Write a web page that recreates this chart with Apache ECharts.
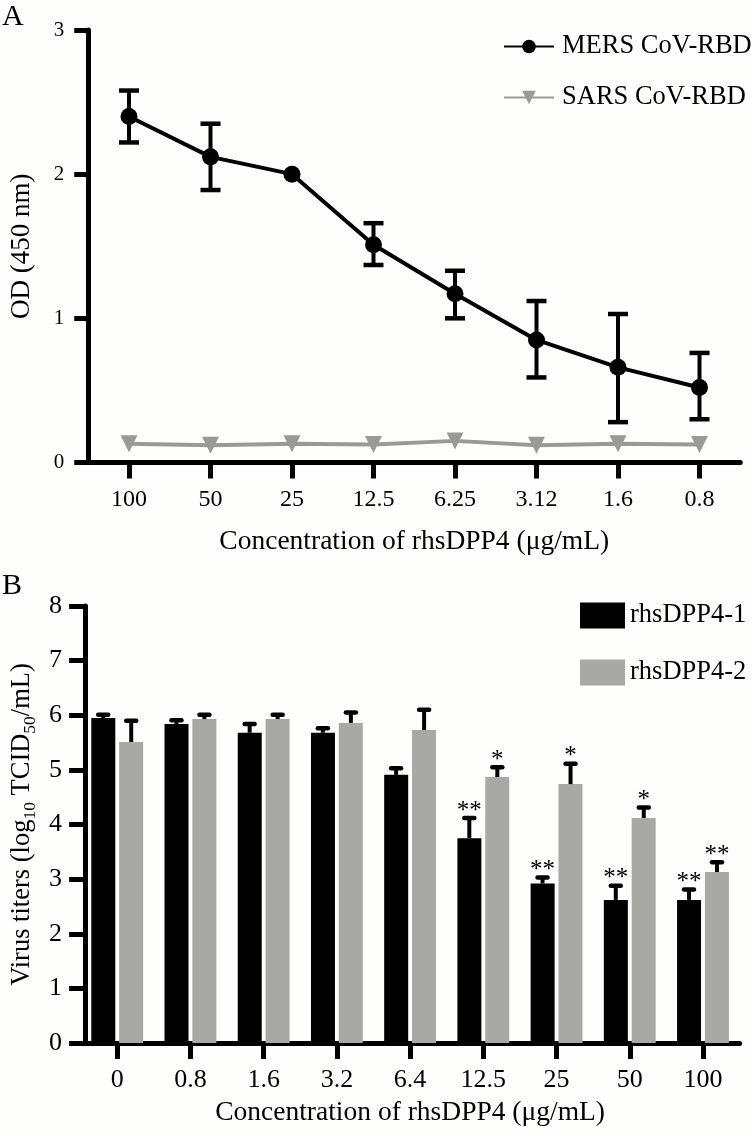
<!DOCTYPE html>
<html><head><meta charset="utf-8">
<script src="https://cdn.jsdelivr.net/npm/echarts@6/dist/echarts.min.js"></script>
<style>html,body{margin:0;padding:0;background:#fefefc}#c{width:753px;height:1135px}</style>
</head><body><div id="c"></div>
<script>
// ---- Panel A data ----
const topCategories = ['100', '50', '25', '12.5', '6.25', '3.12', '1.6', '0.8'];
const mersMean = [2.40, 2.12, 2.00, 1.51, 1.17, 0.85, 0.66, 0.52];
const mersLow  = [2.22, 1.89, 2.00, 1.37, 1.00, 0.59, 0.28, 0.30];
const mersHigh = [2.58, 2.35, 2.00, 1.66, 1.33, 1.12, 1.03, 0.76];
const sarsMean = [0.13, 0.12, 0.13, 0.125, 0.15, 0.12, 0.13, 0.125];

// ---- Panel B data ----
const bottomCategories = ['0', '0.8', '1.6', '3.2', '6.4', '12.5', '25', '50', '100'];
const dpp1Mean = [5.95, 5.84, 5.68, 5.68, 4.91, 3.75, 2.92, 2.62, 2.62];
const dpp1Err  = [0.06, 0.07, 0.16, 0.08, 0.12, 0.37, 0.11, 0.26, 0.19];
const dpp1Sig  = ['', '', '', '', '', '**', '**', '**', '**'];
const dpp2Mean = [5.51, 5.93, 5.93, 5.86, 5.73, 4.87, 4.74, 4.12, 3.13];
const dpp2Err  = [0.39, 0.08, 0.08, 0.19, 0.37, 0.18, 0.37, 0.19, 0.18];
const dpp2Sig  = ['', '', '', '', '', '*', '*', '*', '**'];

const FONT = 'Liberation Serif';
const GRAY_LINE = '#999996';
const GRAY_BAR = '#a8a8a4';

const chart = echarts.init(document.getElementById('c'), null, {renderer: 'canvas'});

function topErr(params, api) {
  const i = api.value(0), lo = api.value(1), hi = api.value(2);
  if (lo === hi) return null;
  const a = api.coord([i, lo]), b = api.coord([i, hi]);
  const hw = 10, st = {stroke: '#000', lineWidth: 4};
  return {type: 'group', children: [
    {type: 'line', shape: {x1: a[0], y1: a[1], x2: b[0], y2: b[1]}, style: st},
    {type: 'line', shape: {x1: b[0] - hw, y1: b[1], x2: b[0] + hw, y2: b[1]}, style: {stroke: '#000', lineWidth: 4.5}},
    {type: 'line', shape: {x1: a[0] - hw, y1: a[1], x2: a[0] + hw, y2: a[1]}, style: {stroke: '#000', lineWidth: 4.5}}
  ]};
}

function barErr(offset, sigs) {
  return function (params, api) {
    const i = api.value(0), m = api.value(1), h = api.value(2);
    const a = api.coord([i, m]), b = api.coord([i, h]);
    const x = a[0] + offset;
    const children = [
      {type: 'line', shape: {x1: x, y1: a[1], x2: x, y2: b[1]}, style: {stroke: '#000', lineWidth: 4}},
      {type: 'line', shape: {x1: x - 5, y1: b[1], x2: x + 5, y2: b[1]}, style: {stroke: '#000', lineWidth: 4.5, lineCap: 'round'}}
    ];
    const s = sigs[params.dataIndex];
    if (s) {
      children.push({type: 'text', style: {text: s, x: x, y: b[1] - 7, align: 'center', verticalAlign: 'middle',
        fontSize: 25, fontFamily: FONT, fill: '#000'}});
    }
    return {type: 'group', children};
  };
}

const axisLineStyle = {color: '#000', width: 5};

chart.setOption({
  animation: false,
  backgroundColor: '#fefefc',
  textStyle: {fontFamily: FONT, color: '#000'},
  graphic: [
    {type: 'text', left: 2, top: 2, style: {text: 'A', fontSize: 30, fontFamily: FONT, fill: '#000'}},
    {type: 'text', left: 2, top: 571, style: {text: 'B', fontSize: 30, fontFamily: FONT, fill: '#000'}}
  ],
  legend: [
    {data: ['MERS CoV-RBD', 'SARS CoV-RBD'], orient: 'vertical', left: 498, top: 28, itemWidth: 50, itemHeight: 17,
      itemGap: 24, textStyle: {fontSize: 26.5, fontFamily: FONT, color: '#000', padding: [0, 0, 0, 3]}},
    {data: ['rhsDPP4-1', 'rhsDPP4-2'], orient: 'vertical', left: 575, top: 597, itemWidth: 45, itemHeight: 26,
      itemGap: 30, icon: 'rect', textStyle: {fontSize: 26.5, fontFamily: FONT, color: '#000', padding: [0, 0, 0, 0]}}
  ],
  grid: [
    {left: 88.25, top: 30, width: 652, height: 432.5, outerBoundsMode: 'none', containLabel: false},
    {left: 80.6, top: 606, width: 659, height: 437, outerBoundsMode: 'none', containLabel: false}
  ],
  xAxis: [
    {type: 'category', gridIndex: 0, data: topCategories, boundaryGap: true,
      axisLine: {show: true, lineStyle: axisLineStyle},
      axisTick: {show: true, alignWithLabel: true, length: 16, lineStyle: {width: 5, color: '#000'}},
      axisLabel: {fontSize: 24, fontFamily: FONT, color: '#000', margin: 25},
      name: 'Concentration of rhsDPP4 (\u03bcg/mL)', nameLocation: 'middle', nameGap: 65, nameMoveOverlap: false,
      nameTextStyle: {fontSize: 27.5, fontFamily: FONT, color: '#000'}},
    {type: 'category', gridIndex: 1, data: bottomCategories, boundaryGap: true,
      axisLine: {show: true, lineStyle: axisLineStyle},
      axisTick: {show: true, alignWithLabel: true, length: 16, lineStyle: {width: 5, color: '#000'}},
      axisLabel: {fontSize: 26, fontFamily: FONT, color: '#000', margin: 24},
      name: 'Concentration of rhsDPP4 (\u03bcg/mL)', nameLocation: 'middle', nameGap: 56, nameMoveOverlap: false,
      nameTextStyle: {fontSize: 27.5, fontFamily: FONT, color: '#000'}}
  ],
  yAxis: [
    {type: 'value', gridIndex: 0, min: 0, max: 3, interval: 1, splitLine: {show: false},
      axisLine: {show: true, lineStyle: axisLineStyle}, axisTick: {show: true, length: 14, lineStyle: {width: 5, color: '#000'}},
      axisLabel: {fontSize: 21, fontFamily: FONT, color: '#000', margin: 24},
      name: 'OD (450 nm)', nameLocation: 'middle', nameGap: 53, nameMoveOverlap: false,
      nameTextStyle: {fontSize: 27, fontFamily: FONT, color: '#000'}},
    {type: 'value', gridIndex: 1, min: 0, max: 8, interval: 1, splitLine: {show: false}, offset: -4.5,
      axisLine: {show: true, lineStyle: axisLineStyle}, axisTick: {show: true, length: 16, lineStyle: {width: 5, color: '#000'}},
      axisLabel: {fontSize: 26, fontFamily: FONT, color: '#000', margin: 23},
      name: 'Virus titers (log{sub|10} TCID{sub|50}/mL)', nameLocation: 'middle', nameGap: 46, nameMoveOverlap: false,
      nameTextStyle: {fontSize: 26.5, fontFamily: FONT, color: '#000', lineHeight: 34,
        rich: {sub: {fontSize: 17.5, fontFamily: FONT, color: '#000', verticalAlign: 'bottom', lineHeight: 17}}}}
  ],
  series: [
    {name: 'MERS err', type: 'custom', xAxisIndex: 0, yAxisIndex: 0, renderItem: topErr, z: 2,
      encode: {x: 0, y: [1, 2]}, data: topCategories.map((c, i) => [i, mersLow[i], mersHigh[i]])},
    {name: 'MERS CoV-RBD', type: 'line', xAxisIndex: 0, yAxisIndex: 0, data: mersMean, z: 3,
      symbol: 'circle', symbolSize: 17, lineStyle: {color: '#000', width: 4}, itemStyle: {color: '#000'}},
    {name: 'SARS CoV-RBD', type: 'line', xAxisIndex: 0, yAxisIndex: 0, data: sarsMean, z: 3,
      symbol: 'triangle', symbolRotate: 180, symbolSize: 17, lineStyle: {color: GRAY_LINE, width: 4}, itemStyle: {color: GRAY_LINE}},
    {name: 'rhsDPP4-1', type: 'bar', xAxisIndex: 1, yAxisIndex: 1, data: dpp1Mean, barWidth: 24, barGap: '16%',
      itemStyle: {color: '#000'}},
    {name: 'rhsDPP4-2', type: 'bar', xAxisIndex: 1, yAxisIndex: 1, data: dpp2Mean, barWidth: 24, barGap: '16%',
      itemStyle: {color: GRAY_BAR}},
    {name: 'err1', type: 'custom', xAxisIndex: 1, yAxisIndex: 1, renderItem: barErr(-14, dpp1Sig), z: 4,
      encode: {x: 0, y: [1, 2]}, data: bottomCategories.map((c, i) => [i, dpp1Mean[i], dpp1Mean[i] + dpp1Err[i]])},
    {name: 'err2', type: 'custom', xAxisIndex: 1, yAxisIndex: 1, renderItem: barErr(14, dpp2Sig), z: 4,
      encode: {x: 0, y: [1, 2]}, data: bottomCategories.map((c, i) => [i, dpp2Mean[i], dpp2Mean[i] + dpp2Err[i]])}
  ]
});
</script>
</body></html>
